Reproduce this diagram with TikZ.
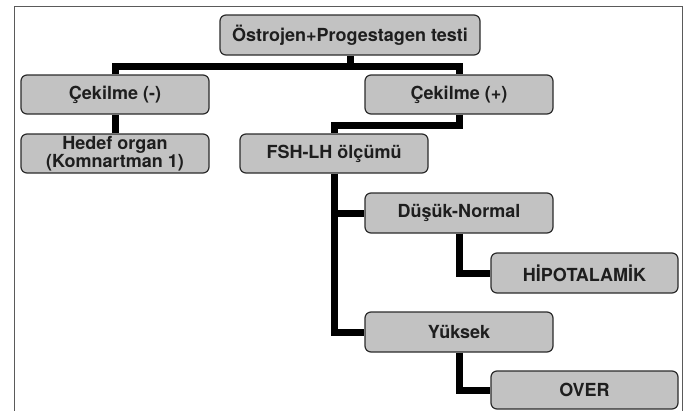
\documentclass[tikz,border=0pt]{standalone}
\usepackage{fontspec}
\usepackage{tikz}
\newfontfamily\heros{TeX Gyre Heros}
\definecolor{BOX}{HTML}{C2C2C2}
\definecolor{EDGE}{HTML}{2B2B2B}
\definecolor{INK}{HTML}{1E1E1E}
\definecolor{FRAME}{HTML}{5A5A5A}
\begin{document}
\begin{tikzpicture}[x=1pt,y=1pt,line join=miter]
	\tikzstyle{box}=[draw=EDGE, fill=BOX, line width=1.2pt, rounded corners=6pt, minimum width=188pt, minimum height=39pt, inner sep=0pt, align=center, text=INK, font=\heros\bfseries\fontsize{18}{18}\selectfont]
	\tikzstyle{link}=[line width=7pt, black]
	
	\useasboundingbox (0,0) rectangle (686,-410);
	\draw[FRAME, line width=1pt] (14,-415) -- (14,-6) -- (682,-6) -- (682,-415);
	
	\node[box, minimum width=260pt, minimum height=40pt] (test) at (350,-35) {Östrojen+Progestagen testi};
	\node[box, xshift=-235pt, yshift=-59.5pt]           (neg)    at (test)   {Çekilme (-)};
	\node[box, xshift=344pt]                            (pos)    at (neg)    {\raisebox{-4pt}{Çekilme (+)}};
	\node[box, yshift=-59pt]                            (hedef)  at (neg)    {\raisebox{-2pt}{\parbox{180pt}{\centering Hedef organ\\(Komnartman 1)}}};
	\node[box, xshift=219pt]                            (fsh)    at (hedef)  {FSH-LH ölçümü};
	\node[box, xshift=125pt, yshift=-59.5pt, minimum height=40pt] (dusuk)  at (fsh)    {Düşük-Normal};
	\node[box, xshift=125.5pt, yshift=-60pt, minimum width=187pt, minimum height=40pt] (hipo) at (dusuk) {HİPOTALAMİK};
	\node[box, yshift=-119pt, minimum height=40pt]      (yuksek) at (dusuk)  {Yüksek};
	\node[box, xshift=125.5pt, yshift=-58pt, minimum width=187pt, minimum height=38pt] (over) at (yuksek) {OVER};
	
	\coordinate (fork)  at ([yshift=-11pt]test.south);
	\coordinate (fork2) at ([yshift=-10.5pt]pos.south);
	
	\draw[link] (test.south)   -- (fork);
	\draw[link] (neg.north)    |- (fork) -| (pos.north);
	\draw[link] (neg)          -- (hedef);
	\draw[link] (pos.south)    -- (fork2) -| (fsh.north);
	\draw[link] (fsh.south)    |- (dusuk.west);
	\draw[link] (fsh.south)    |- (yuksek.west);
	\draw[link] (dusuk.south)  |- (hipo.west);
	\draw[link] (yuksek.south) |- (over.west);
\end{tikzpicture}
\end{document}
